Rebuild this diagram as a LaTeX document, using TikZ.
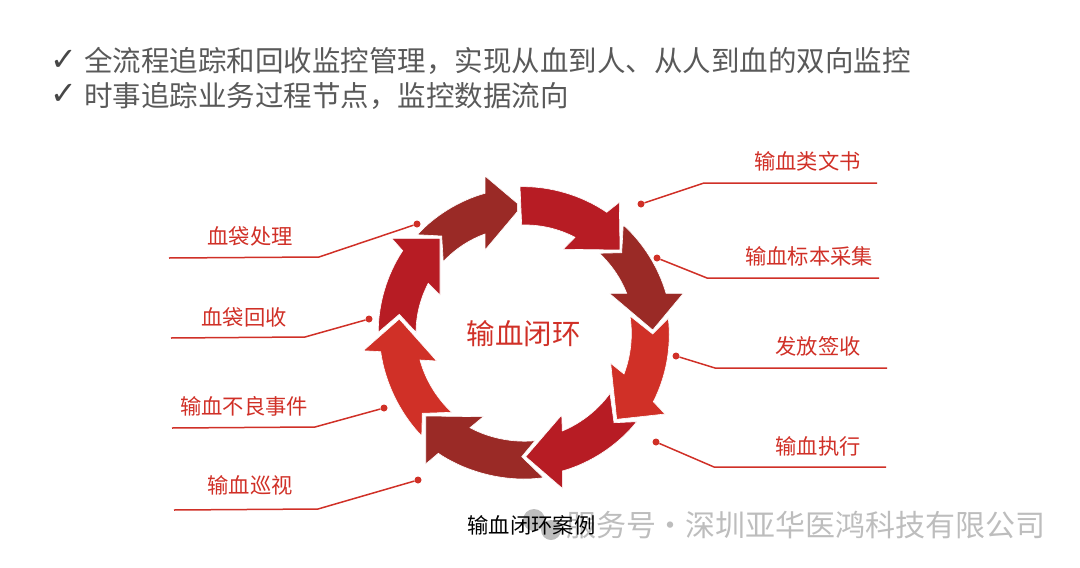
\documentclass[tikz,border=0pt]{standalone}
\usepackage{fontspec}
\setmainfont{Noto Sans CJK SC}
\newfontfamily\symfont{DejaVu Sans}
\definecolor{ringred}{HTML}{B71C24}
\definecolor{ringdark}{HTML}{9A2A26}
\definecolor{ringlight}{HTML}{D03027}
\definecolor{headgray}{HTML}{595959}
\definecolor{markgray}{HTML}{BDBDBD}
\tikzset{
    headline/.style={anchor=west, inner sep=0pt, text=headgray, font=\fontsize{28.5}{30}\selectfont},
    checkmark/.style={inner sep=0pt, text=headgray!80!black, font=\symfont\fontsize{32}{34}\selectfont},
    sidelabel/.style={inner sep=0pt, text=ringlight, font=\fontsize{21.3}{23}\selectfont},
    leaderdot/.style={circle, fill=ringlight, inner sep=0pt, minimum size=7pt},
    leader/.style={draw=ringlight, line width=1.5pt},
    ringpart/.style={draw=white, line width=.6pt, line join=miter},
    outerarc/.style={bend left=#1, looseness=.85},
    innerarc/.style={bend right=#1, looseness=.85},
}
\begin{document}
\begin{tikzpicture}[x=1pt, y=-1pt]
    \useasboundingbox (0,0) rectangle (1080,568);
    % Two lines at the top
    \node[checkmark] (checka) at (64,60) {✓};
    \node[headline] (linea) at (84,61) {全流程追踪和回收监控管理，实现从血到人、从人到血的双向监控};
    \node[checkmark] (checkb) at (64,94) {✓};
    \node[headline] (lineb) at (84,96) {时事追踪业务过程节点，监控数据流向};
    % Ring of arrows, clockwise from the top
    \filldraw[ringpart, fill=ringred] (520,186.7) to[outerarc=18] (606.7,212.3) -- (619.3,202.3) -- (620,250)
        -- (563.3,249.3) -- (575,237.3) to[innerarc=15] (521.7,225) -- cycle;
    \filldraw[ringpart, fill=ringdark] (623.3,225) to[outerarc=16] (666,293.3) -- (683.3,293.3) -- (652.7,330)
        -- (609.3,293.3) -- (626.7,293.3) to[innerarc=13] (599.3,253.3) -- (621.7,252.7) -- cycle;
    \filldraw[ringpart, fill=ringlight] (668.3,318.3) to[outerarc=17] (653.3,401.7) -- (665,414) -- (616.7,419.3)
        -- (610.7,363.3) -- (624,374) to[innerarc=15] (630,316) -- (652.7,334) -- cycle;
    \filldraw[ringpart, fill=ringred] (636.7,421.7) to[outerarc=18] (562.3,471) -- (562.3,488.3) -- (525.7,456.7)
        -- (561.7,415) -- (562.3,431) to[innerarc=16] (610,393.3) -- (614,422.7) -- cycle;
    \filldraw[ringpart, fill=ringdark] (543.3,477.7) to[outerarc=21] (438.3,453.3) -- (425.7,464) -- (425.7,416)
        -- (483.3,416.7) -- (470,427.7) to[innerarc=17] (535,440.7) -- (521.7,456.7) -- cycle;
    \filldraw[ringpart, fill=ringlight] (421.7,436) to[outerarc=18] (380.7,351.7) -- (363.3,350.7) -- (399.3,319)
        -- (436.7,361) -- (420,360) to[innerarc=16] (451.7,412.3) -- (422.3,413.3) -- cycle;
    \filldraw[ringpart, fill=ringred] (378.3,332.3) to[outerarc=17] (402.7,250.7) -- (391.7,238.3) -- (440,238.3)
        -- (440,295) -- (428.3,283.3) to[innerarc=14] (416,332.3) -- (399.3,314.3) -- cycle;
    \filldraw[ringpart, fill=ringdark] (417.3,234.7) to[outerarc=16] (485,193.3) -- (485,176) -- (517.3,203.3)
        -- (517.3,211.7) -- (485,250) -- (485,234) to[innerarc=14] (443.3,261.7) -- (441.7,236) -- cycle;
    \node[inner sep=0pt, text=ringlight, font=\fontsize{28.5}{30}\selectfont] (ringname) at (523.5,334) {输血闭环};
    % Right side labels
    \node[leaderdot] (dota) at (641,204) {};
    \coordinate (benda) at (704,183);
    \coordinate (enda) at (877,183);
    \draw[leader] (dota) -- (benda) -- (enda);
    \node[sidelabel] (laba) at (807.5,161) {输血类文书};
    \node[leaderdot] (dotb) at (657,258) {};
    \coordinate (bendb) at (707,278);
    \coordinate (endb) at (879,278);
    \draw[leader] (dotb) -- (bendb) -- (endb);
    \node[sidelabel] (labb) at (809,256) {输血标本采集};
    \node[leaderdot] (dotc) at (676,356) {};
    \coordinate (bendc) at (715,368);
    \coordinate (endc) at (887,368);
    \draw[leader] (dotc) -- (bendc) -- (endc);
    \node[sidelabel] (labc) at (818,346) {发放签收};
    \node[leaderdot] (dotd) at (656,442) {};
    \coordinate (bendd) at (714,467);
    \coordinate (endd) at (886,467);
    \draw[leader] (dotd) -- (bendd) -- (endd);
    \node[sidelabel] (labd) at (818,446) {输血执行};
    % Left side labels
    \node[leaderdot] (dote) at (417,224) {};
    \coordinate (bende) at (319,257);
    \coordinate (ende) at (169,258);
    \draw[leader] (dote) -- (bende) -- (ende);
    \node[sidelabel] (labe) at (250,236) {血袋处理};
    \node[leaderdot] (dotf) at (369,319) {};
    \coordinate (bendf) at (305,337);
    \coordinate (endf) at (171,338);
    \draw[leader] (dotf) -- (bendf) -- (endf);
    \node[sidelabel] (labf) at (244,317.5) {血袋回收};
    \node[leaderdot] (dotg) at (384,408) {};
    \coordinate (bendg) at (315,427);
    \coordinate (endg) at (172,428);
    \draw[leader] (dotg) -- (bendg) -- (endg);
    \node[sidelabel] (labg) at (244,406) {输血不良事件};
    \node[leaderdot] (doth) at (418,480) {};
    \coordinate (bendh) at (318,509);
    \coordinate (endh) at (174,510);
    \draw[leader] (doth) -- (bendh) -- (endh);
    \node[sidelabel] (labh) at (250,485.5) {输血巡视};
    % Watermark and caption
    \fill[markgray] (534,520) circle (11) (551,530) circle (10);
    \node[anchor=west, inner sep=0pt, text=markgray, font=\fontsize{30}{32}\selectfont] (stamp) at (566,525) {服务号\hspace{-7pt} · \hspace{-7pt}深圳亚华医鸿科技有限公司};
    \node[inner sep=0pt, text=black, font=\fontsize{21.3}{23}\selectfont] (caption) at (531.5,525) {输血闭环案例};
\end{tikzpicture}
\end{document}
